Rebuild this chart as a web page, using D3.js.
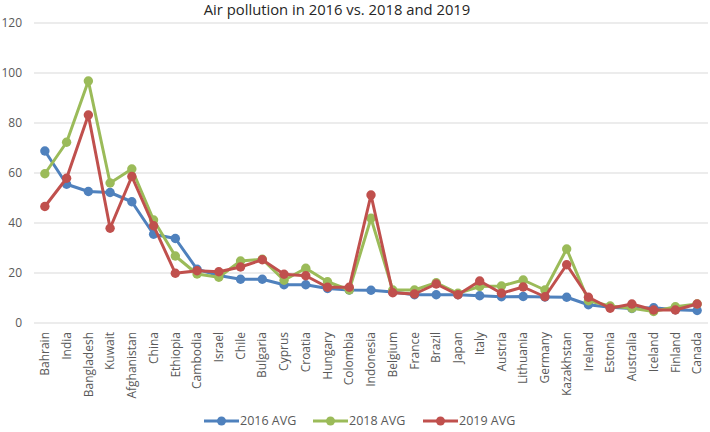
<!DOCTYPE html>
<html><head><meta charset="utf-8">
<script src="https://cdn.jsdelivr.net/npm/d3@7"></script>
<style>body{margin:0;background:#fff}svg{display:block}text{font-family:"Open Sans",sans-serif}</style>
</head><body><div id="chart"></div>
<script>
const categories = ["Bahrain","India","Bangladesh","Kuwait","Afghanistan","China","Ethiopia","Cambodia","Israel","Chile","Bulgaria","Cyprus","Croatia","Hungary","Colombia","Indonesia","Belgium","France","Brazil","Japan","Italy","Austria","Lithuania","Germany","Kazakhstan","Ireland","Estonia","Australia","Iceland","Finland","Canada"];
const avg2016 = [68.8,55.5,52.6,52.2,48.5,35.5,33.8,21.5,19,17.5,17.5,15.3,15.3,13.8,13.2,13.1,12.4,11.3,11.3,11.3,10.9,10.5,10.6,10.4,10.3,7.3,6.3,5.8,6.1,5.3,5.0];
const avg2018 = [59.7,72.3,96.8,56,61.6,41.2,26.8,19.6,18.3,24.8,25.5,17.1,21.9,16.5,13.2,41.9,13.2,13.2,16.1,11.9,14.6,14.8,17.2,13.2,29.6,8.9,6.8,5.9,4.6,6.5,7.6];
const avg2019 = [46.6,57.9,83.2,37.9,58.6,38.9,19.9,20.9,20.5,22.4,25.3,19.5,18.9,14.3,14.3,51.2,12.1,11.6,15.6,11.3,16.8,11.9,14.4,10.5,23.3,10.3,5.9,7.6,5.2,5.2,7.6];
const yTicks = [0,20,40,60,80,100,120];
const seriesNames = ["2016 AVG","2018 AVG","2019 AVG"];
const colors = ["#4F81BD","#9BBB59","#C0504D"];
const title = "Air pollution in 2016 vs. 2018 and 2019";

const W = 710, H = 432;
const m = {left:34, right:2, top:23, bottom:109};
const svg = d3.select("#chart").append("svg").attr("width",W).attr("height",H);
const x = d3.scaleBand().domain(categories).range([m.left, W-m.right]);
const y = d3.scaleLinear().domain([0,120]).range([H-m.bottom, m.top]);

svg.append("text").attr("x",337).attr("y",15).attr("text-anchor","middle")
  .attr("font-size",14.8).attr("fill","#262626").text(title);

// grid
svg.append("g").selectAll("line").data(yTicks).join("line")
  .attr("x1",m.left).attr("x2",W-m.right)
  .attr("y1",d=>y(d)).attr("y2",d=>y(d))
  .attr("stroke","#D9D9D9").attr("stroke-width",1);

// y axis
const yAxis = svg.append("g").attr("transform",`translate(${m.left-8},0)`)
  .call(d3.axisLeft(y).tickValues(yTicks).tickSize(0).tickPadding(4));
yAxis.select(".domain").remove();
yAxis.selectAll("text").attr("font-size",12).attr("fill","#595959").attr("font-family","'Open Sans',sans-serif");

// x axis
const xAxis = svg.append("g").attr("transform",`translate(0,${y(0)})`)
  .call(d3.axisBottom(x).tickSize(0).tickPadding(0));
xAxis.select(".domain").remove();
xAxis.selectAll("text").attr("font-size",12).attr("fill","#595959").attr("font-family","'Open Sans',sans-serif")
  .attr("text-anchor","end").attr("dy","0.35em")
  .attr("transform","translate(0,9) rotate(-90)");

const allSeries = [avg2016, avg2018, avg2019];
const line = d3.line().x((d,i)=>x(categories[i])+x.bandwidth()/2).y(d=>y(d));
allSeries.forEach((s,k)=>{
  const g = svg.append("g");
  g.append("path").datum(s).attr("d",line).attr("fill","none")
    .attr("stroke",colors[k]).attr("stroke-width",3).attr("stroke-linejoin","round");
  g.selectAll("circle").data(s).join("circle")
    .attr("cx",(d,i)=>x(categories[i])+x.bandwidth()/2).attr("cy",d=>y(d))
    .attr("r",4.7).attr("fill",colors[k]);
});

// legend
const legX = [204,313,423];
seriesNames.forEach((n,k)=>{
  const g = svg.append("g").attr("transform",`translate(${legX[k]},421)`);
  g.append("line").attr("x1",0).attr("x2",35).attr("stroke",colors[k]).attr("stroke-width",3);
  g.append("circle").attr("cx",17.5).attr("r",4.5).attr("fill",colors[k]);
  g.append("text").attr("x",36).attr("dy","0.35em").attr("font-size",12.5).attr("fill","#595959").text(n);
});
</script></body></html>
